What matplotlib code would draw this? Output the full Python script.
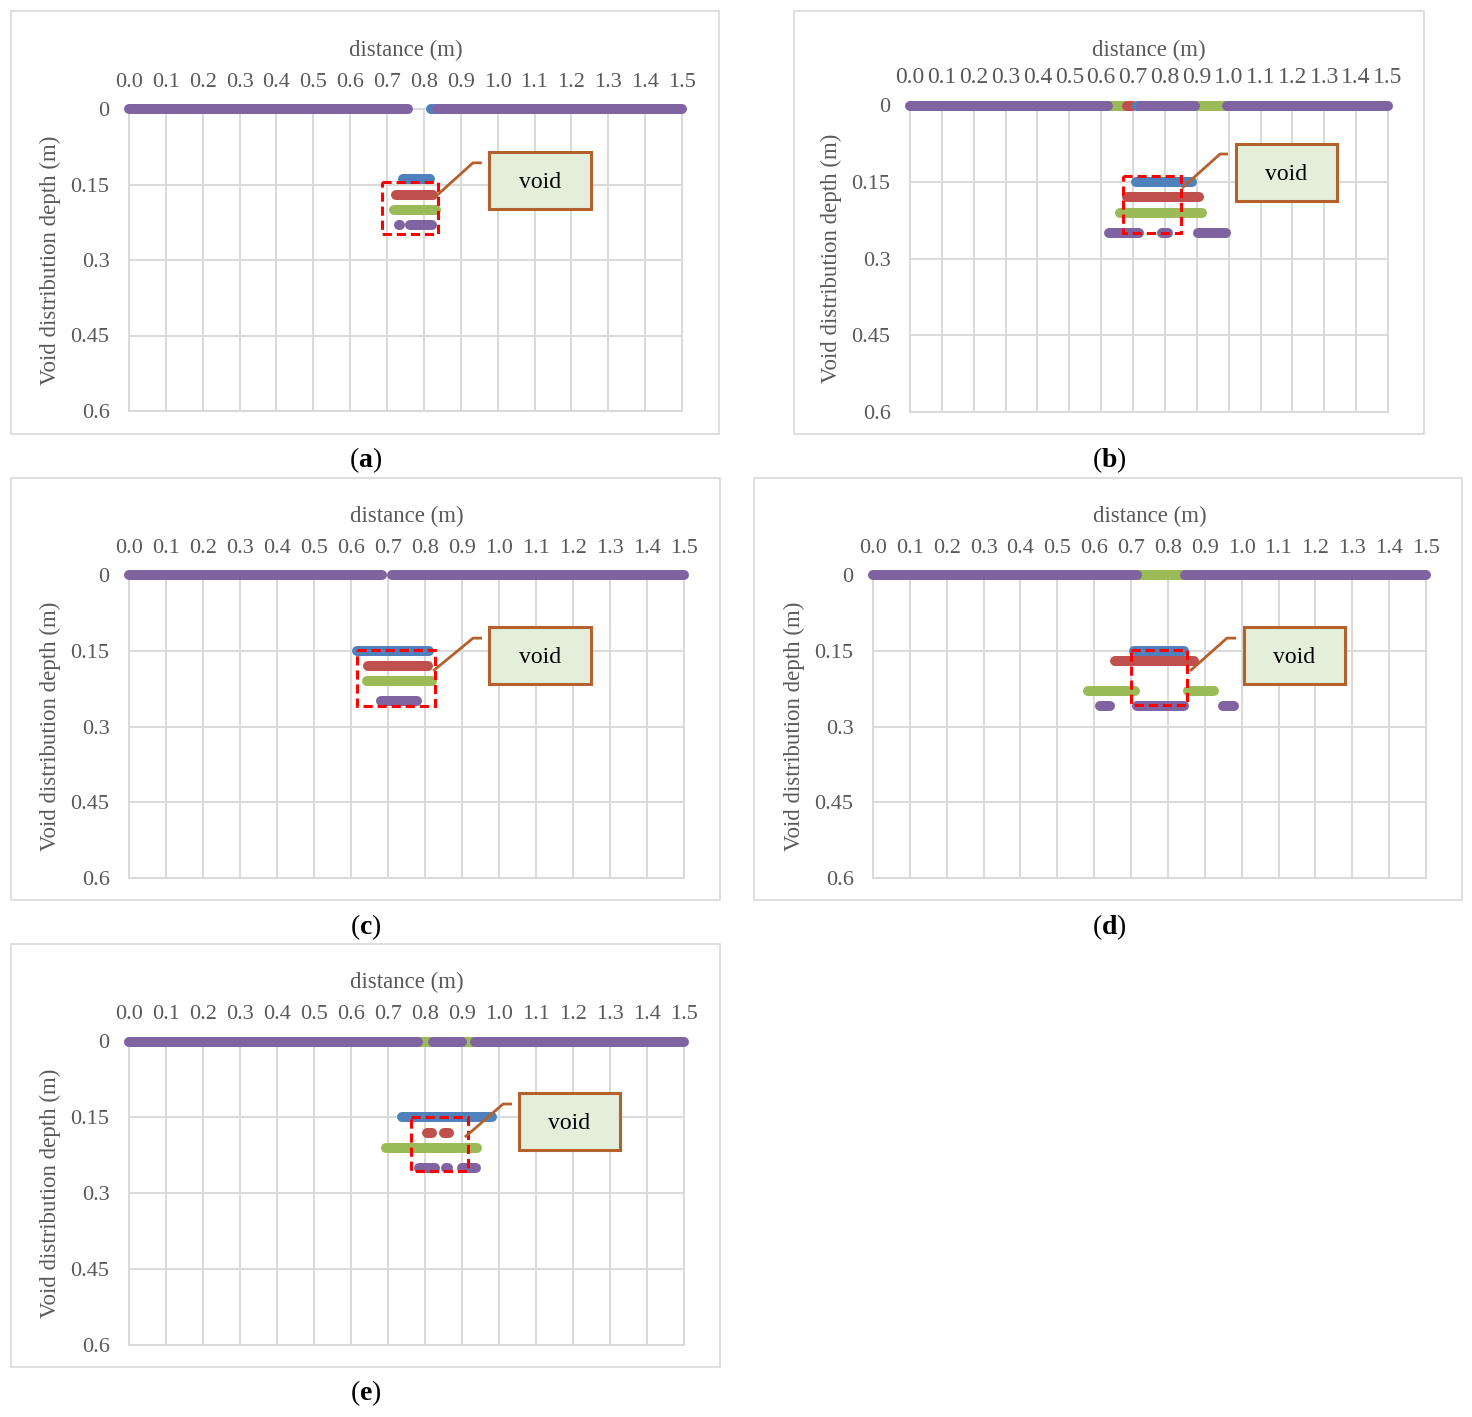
import matplotlib
matplotlib.use('Agg')
import matplotlib.pyplot as plt
from matplotlib.patches import Rectangle

plt.rcParams['font.family'] = ['Liberation Serif', 'DejaVu Serif']
plt.rcParams['mathtext.fontset'] = 'custom'
plt.rcParams['mathtext.rm'] = 'Liberation Serif'
plt.rcParams['mathtext.bf'] = 'Liberation Serif:bold'

W, H, DPI = 1472, 1417, 100

COLORS = {'blue': '#4F81BD', 'red': '#C0504D', 'green': '#9BBB59', 'purple': '#8064A2'}

x_ticks = [0.0, 0.1, 0.2, 0.3, 0.4, 0.5, 0.6, 0.7, 0.8, 0.9, 1.0, 1.1, 1.2, 1.3, 1.4, 1.5]
x_tick_labels = ['0.0', '0.1', '0.2', '0.3', '0.4', '0.5', '0.6', '0.7', '0.8', '0.9',
                 '1.0', '1.1', '1.2', '1.3', '1.4', '1.5']
y_ticks = [0.0, 0.15, 0.3, 0.45, 0.6]
y_tick_labels = ['0', '0.15', '0.3', '0.45', '0.6']
x_label = 'distance (m)'
y_label = 'Void distribution depth (m)'
callout_text = 'void'

# ---- panel (a) ----
a_series = ['blue', 'purple', 'purple', 'blue', 'red', 'green', 'purple', 'purple']
a_depth = [0.0, 0.0, 0.0, 0.14, 0.17, 0.20, 0.23, 0.23]
a_start = [0.819, 0.0, 0.835, 0.743, 0.724, 0.719, 0.733, 0.762]
a_end = [0.840, 0.758, 1.5, 0.816, 0.825, 0.833, 0.735, 0.822]
a_void_box = [0.686, 0.838, 0.145, 0.248]

# ---- panel (b) ----
b_series = ['green', 'red', 'blue', 'green', 'purple', 'purple', 'purple',
            'blue', 'red', 'green', 'purple', 'purple', 'purple']
b_depth = [0.0, 0.0, 0.0, 0.0, 0.0, 0.0, 0.0, 0.15, 0.18, 0.21, 0.25, 0.25, 0.25]
b_start = [0.62, 0.681, 0.712, 0.89, 0.0, 0.725, 0.995, 0.709, 0.681, 0.659, 0.624, 0.791, 0.904]
b_end = [0.69, 0.700, 0.720, 1.00, 0.621, 0.894, 1.5, 0.885, 0.907, 0.916, 0.718, 0.810, 0.992]
b_void_box = [0.668, 0.850, 0.138, 0.250]

# ---- panel (c) ----
c_series = ['purple', 'purple', 'blue', 'red', 'green', 'purple']
c_depth = [0.0, 0.0, 0.15, 0.18, 0.21, 0.25]
c_start = [0.0, 0.711, 0.616, 0.646, 0.643, 0.681]
c_end = [0.684, 1.5, 0.811, 0.808, 0.819, 0.778]
c_void_box = [0.616, 0.827, 0.1485, 0.259]

# ---- panel (d) ----
d_series = ['green', 'purple', 'purple', 'blue', 'red', 'green', 'green',
            'purple', 'purple', 'purple']
d_depth = [0.0, 0.0, 0.0, 0.15, 0.17, 0.23, 0.23, 0.26, 0.26, 0.26]
d_start = [0.70, 0.0, 0.846, 0.708, 0.656, 0.583, 0.854, 0.616, 0.716, 0.949]
d_end = [0.86, 0.716, 1.5, 0.844, 0.871, 0.711, 0.925, 0.643, 0.844, 0.979]
d_void_box = [0.700, 0.852, 0.1485, 0.257]

# ---- panel (e) ----
e_series = ['green', 'purple', 'purple', 'purple', 'blue', 'red', 'red', 'green',
            'purple', 'purple', 'purple']
e_depth = [0.0, 0.0, 0.0, 0.0, 0.15, 0.18, 0.18, 0.21, 0.25, 0.25, 0.25]
e_start = [0.78, 0.0, 0.822, 0.935, 0.738, 0.805, 0.851, 0.695, 0.784, 0.857, 0.900]
e_end = [0.94, 0.782, 0.899, 1.5, 0.981, 0.819, 0.865, 0.941, 0.827, 0.861, 0.938]
e_void_box = [0.762, 0.916, 0.149, 0.256]

# layout (pixels): axes rect (left, top, right, bottom), frame rect, caption, callout
panels = [
    dict(name='a', series=a_series, depth=a_depth, start=a_start, end=a_end, vbox=a_void_box,
         ax=(129, 109, 682, 411), frame=(11, 11, 719, 434), cap=(366, 460), xfs=16, xlp=12,
         call_box=(0.976, 1.253, 0.0854, 0.199), call_line=([0.830, 0.933, 0.957], [0.175, 0.107, 0.107])),
    dict(name='b', series=b_series, depth=b_depth, start=b_start, end=b_end, vbox=b_void_box,
         ax=(910, 105.5, 1388, 412), frame=(794, 11, 1424, 434), cap=(1109, 460), xfs=17, xlp=8,
         call_box=(1.023, 1.340, 0.0754, 0.187), call_line=([0.854, 0.973, 0.998], [0.1615, 0.095, 0.095])),
    dict(name='c', series=c_series, depth=c_depth, start=c_start, end=c_end, vbox=c_void_box,
         ax=(129, 575, 684, 878), frame=(11, 478, 720, 900), cap=(366, 927), xfs=16, xlp=12,
         call_box=(0.973, 1.249, 0.103, 0.216), call_line=([0.822, 0.930, 0.954], [0.190, 0.125, 0.125])),
    dict(name='d', series=d_series, depth=d_depth, start=d_start, end=d_end, vbox=d_void_box,
         ax=(873, 575, 1426, 878), frame=(754, 478, 1462, 900), cap=(1109, 927), xfs=16, xlp=12,
         call_box=(1.006, 1.280, 0.103, 0.216), call_line=([0.860, 0.960, 0.985], [0.190, 0.125, 0.125])),
    dict(name='e', series=e_series, depth=e_depth, start=e_start, end=e_end, vbox=e_void_box,
         ax=(129, 1041.5, 684, 1345), frame=(11, 944, 720, 1367), cap=(366, 1393), xfs=16, xlp=12,
         call_box=(1.054, 1.327, 0.102, 0.2145), call_line=([0.908, 1.011, 1.035], [0.189, 0.1236, 0.1236])),
]

GRID = '#D9D9D9'
TXT = '#595959'
BROWN = '#B4612B'
FILL = '#E3EFDA'

fig = plt.figure(figsize=(W / DPI, H / DPI), dpi=DPI)
fig.patch.set_facecolor('white')


def frac_rect(l, t, r, b):
    return [l / W, 1 - b / H, (r - l) / W, (b - t) / H]


for p in panels:
    fl, ft, fr, fb = p['frame']
    fig.add_artist(Rectangle((fl / W, 1 - fb / H), (fr - fl) / W, (fb - ft) / H,
                             transform=fig.transFigure, fill=False, ec=GRID, lw=1.2))
    ax = fig.add_axes(frac_rect(*p['ax']))
    ax.set_xlim(0, 1.5)
    ax.set_ylim(0.6, 0)
    ax.set_xticks(x_ticks)
    ax.set_xticklabels(x_tick_labels)
    ax.set_yticks(y_ticks)
    ax.set_yticklabels(y_tick_labels)
    ax.xaxis.tick_top()
    ax.xaxis.set_label_position('top')
    ax.tick_params(axis='both', length=0, labelsize=16, labelcolor=TXT)
    ax.tick_params(axis='x', pad=12.5, labelsize=p['xfs'])
    ax.tick_params(axis='y', pad=14)
    ax.grid(True, color=GRID, lw=1.4)
    ax.set_axisbelow(True)
    for s in ax.spines.values():
        s.set_color(GRID)
        s.set_linewidth(1.4)
    ax.set_xlabel(x_label, fontsize=16.5, color=TXT, labelpad=p['xlp'])
    ax.set_ylabel(y_label, fontsize=16.5, color=TXT, labelpad=7)

    for col, d, x0, x1 in zip(p['series'], p['depth'], p['start'], p['end']):
        ax.plot([x0, x1], [d, d], color=COLORS[col], lw=7.2, solid_capstyle='round',
                clip_on=False, zorder=3)

    vx0, vx1, vy0, vy1 = p['vbox']
    ax.add_patch(Rectangle((vx0, vy0), vx1 - vx0, vy1 - vy0, fill=False, ec='#FF0000',
                           lw=2.2, ls=(0, (3, 1.6)), zorder=5, clip_on=False))

    lx, ly = p['call_line']
    ax.plot(lx, ly, color=BROWN, lw=2.0, zorder=6, clip_on=False, solid_capstyle='butt')
    cx0, cx1, cy0, cy1 = p['call_box']
    ax.add_patch(Rectangle((cx0, cy0), cx1 - cx0, cy1 - cy0, fc=FILL, ec=BROWN, lw=2.2,
                           zorder=6, clip_on=False))
    ax.text((cx0 + cx1) / 2, (cy0 + cy1) / 2 + 0.004, callout_text, ha='center', va='center',
            fontsize=17, color='black', zorder=7)

    cxp, cyp = p['cap']
    fig.text(cxp / W, 1 - cyp / H, '($\\mathbf{' + p['name'] + '}$)', ha='center', va='center',
             fontsize=20, color='black')

fig.savefig('out.png', dpi=DPI, facecolor='white')
